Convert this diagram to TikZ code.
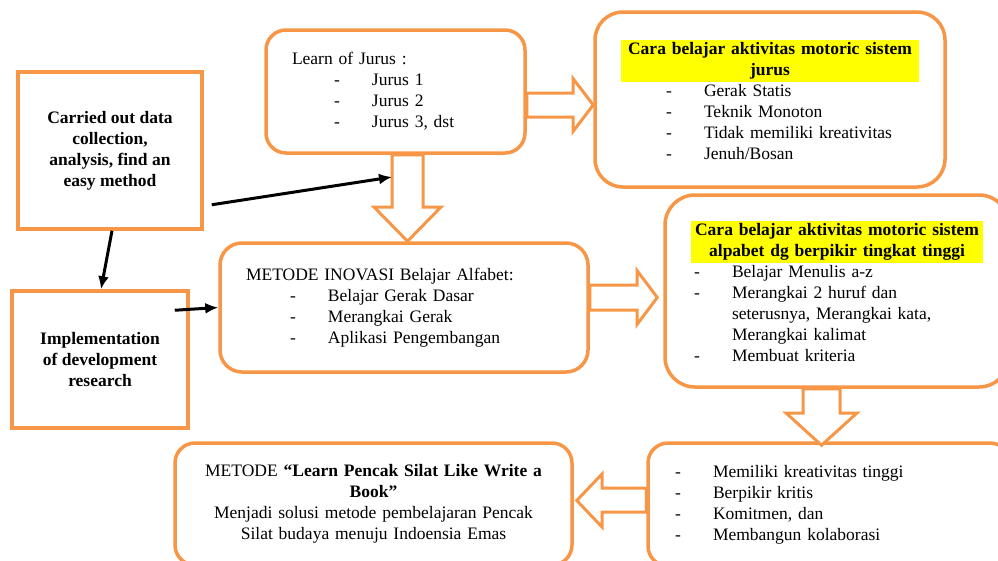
\documentclass[tikz,border=0pt]{standalone}
\usepackage{fontspec}
\setmainfont{Liberation Serif}
\usetikzlibrary{arrows.meta,calc,positioning}
\definecolor{boxorange}{HTML}{F79646}
\definecolor{hlyellow}{HTML}{FFFF00}
\newcommand{\boxfont}{\fontsize{17.5}{21}\selectfont}
\newcommand{\lsdash}[2]{\hspace*{#1}\makebox[38pt][l]{-}#2}
\newcommand{\hlbox}[2]{{\setlength{\fboxsep}{0pt}\colorbox{hlyellow}{\parbox[b]{#1}{\centering\bfseries\strut #2\strut}}}}
\tikzset{%
	plainbox/.style = {draw=boxorange, line width=3.5pt, rectangle, align=center, font=\boxfont\bfseries},
	roundbox/.style = {draw=boxorange, line width=3.5pt, rectangle, rounded corners=#1, inner xsep=26pt, align=left},
	roundbox/.default = 22pt,
	hollow/.style   = {draw=boxorange, line width=3pt, fill=white, line join=miter},
	arrow/.style    = {line width=3pt, -{Latex[length=13pt,width=11pt]}},
}

\begin{document}
\begin{tikzpicture}[x=1pt, y=-1pt, font=\boxfont]
	\useasboundingbox (0,0) rectangle (998,560);
	% boxes
	\node[plainbox, minimum width=184pt, minimum height=157pt] (collect) at (110,150.5) {Carried out data\\ collection,\\ analysis, find an\\ easy method};
	\node[plainbox, minimum width=176pt, minimum height=137pt] (implement) at (100,359.5) {Implementation\\ of development\\ research};
	\node[roundbox=20pt, text width=207pt, minimum height=123pt] (jurus) at (395.5,91.5) {Learn of Jurus :\\ \lsdash{42pt}{Jurus 1}\\ \lsdash{42pt}{Jurus 2}\\ \lsdash{42pt}{Jurus 3, dst}};
	\node[roundbox=28pt, text width=298pt, minimum height=175pt] (sisjurus) at (770,99.5) {\hlbox{298pt}{Cara belajar aktivitas motoric sistem\\ jurus}\\ \lsdash{45pt}{Gerak Statis}\\ \lsdash{45pt}{Teknik Monoton}\\ \lsdash{45pt}{Tidak memiliki kreativitas}\\ \lsdash{45pt}{Jenuh/Bosan}};
	\node[roundbox, text width=316pt, minimum height=129pt] (inovasi) at (404,307.5) {METODE INOVASI Belajar Alfabet:\\ \lsdash{44pt}{Belajar Gerak Dasar}\\ \lsdash{44pt}{Merangkai Gerak}\\ \lsdash{44pt}{Aplikasi Pengembangan}};
	\node[roundbox=30pt, text width=292pt, minimum height=192pt] (sisalfabet) at (837,291) {\hlbox{292pt}{Cara belajar aktivitas motoric sistem\\ alpabet dg berpikir tingkat tinggi}\\ \lsdash{3pt}{Belajar Menulis a-z}\\ \lsdash{3pt}{Merangkai 2 huruf dan}\\ \hspace*{41pt}seterusnya, Merangkai kata,\\ \hspace*{41pt}Merangkai kalimat\\ \lsdash{3pt}{Membuat kriteria}};
	\node[roundbox=20pt, text width=310pt, minimum height=123pt] (hasil) at (829,504.5) {\lsdash{1pt}{Memiliki kreativitas tinggi}\\ \lsdash{1pt}{Berpikir kritis}\\ \lsdash{1pt}{Komitmen, dan}\\ \lsdash{1pt}{Membangun kolaborasi}};
	\node[roundbox=20pt, text width=345pt, minimum height=122pt, align=center] (metode) at (373.5,504) {METODE \textbf{“Learn Pencak Silat Like Write a}\\ \textbf{Book”}\\ Menjadi solusi metode pembelajaran Pencak\\ Silat budaya menuju Indoensia Emas};
	
	% hollow block arrows
	\draw[hollow] (jurus.east |- 0,93) -- (573,93) -- (573,78.5) -- (sisjurus.west |- 0,105) -- (573,131.5) -- (573,117) -- (jurus.east |- 0,117) -- cycle;
	\draw[hollow] (392,0 |- jurus.south) -- (392,207) -- (374,207) -- (407.5,0 |- inovasi.north) -- (441,207) -- (423,207) -- (423,0 |- jurus.south) -- cycle;
	\draw[hollow] (inovasi.east |- 0,285) -- (637,285) -- (637,270.5) -- ([xshift=-6pt]sisalfabet.west |- 0,297.5) -- (637,324.5) -- (637,310) -- (inovasi.east |- 0,310) -- cycle;
	\draw[hollow] (803,0 |- sisalfabet.south) -- (803,413) -- (786,413) -- ([yshift=-4pt]821.5,0 |- hasil.north) -- (857,413) -- (840,413) -- (840,0 |- sisalfabet.south) -- cycle;
	\draw[hollow] (hasil.west |- 0,488) -- (602,488) -- (602,474) -- ([xshift=3pt]metode.east |- 0,500.5) -- (602,527) -- (602,512) -- (hasil.west |- 0,512) -- cycle;
	
	% black arrows
	\coordinate (shaftleft) at (392,177);
	\draw[arrow] ($(collect.south)+(2,0)$) -- ($(implement.north)+(1,0)$);
	\draw[arrow] ($(collect.south east)+(8,-26)$) -- (shaftleft);
	\draw[arrow] ($(implement.north east)+(-15,21)$) -- (inovasi.west);
\end{tikzpicture}
\end{document}
